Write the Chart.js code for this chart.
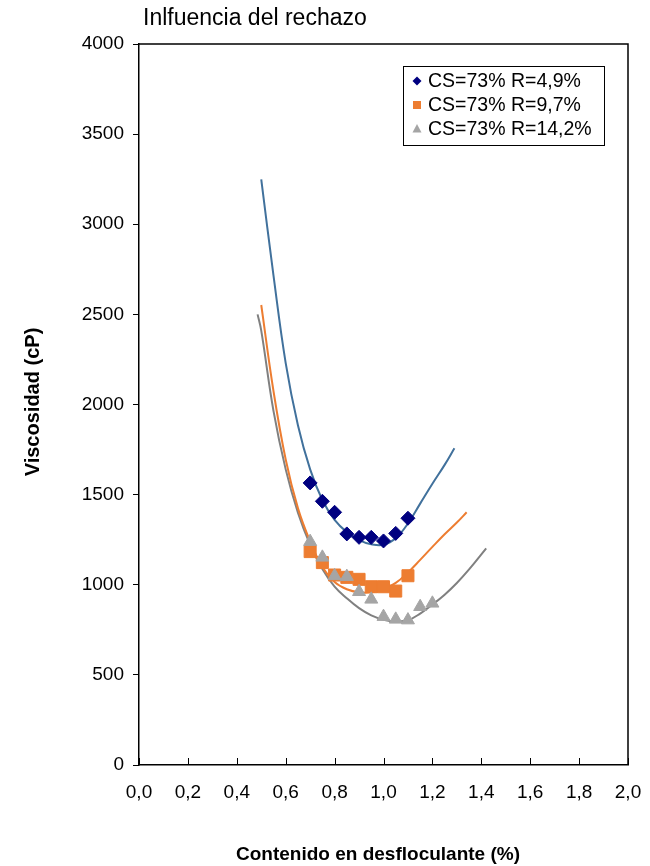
<!DOCTYPE html>
<html>
<head>
<meta charset="utf-8">
<style>
  body { margin: 0; background: #fff; }
  canvas { display: block; }
</style>
<script src="https://cdn.jsdelivr.net/npm/chart.js@4.4.1/dist/chart.umd.min.js"></script>
</head>
<body>
<canvas id="viscChart" width="650" height="866"></canvas>
<script>
// datos medidos (contenido en desfloculante %, viscosidad cP)
var desflo = [0.70, 0.75, 0.80, 0.85, 0.90, 0.95, 1.00, 1.05, 1.10];
var desfloR142 = [0.70, 0.75, 0.80, 0.85, 0.90, 0.95, 1.00, 1.05, 1.10, 1.15, 1.20];
var viscR49 = [1565, 1463, 1402, 1282, 1263, 1263, 1243, 1285, 1369];
var viscR97 = [1184, 1123, 1054, 1041, 1030, 989, 989, 965, 1050];
var viscR142 = [1239, 1152, 1049, 1045, 961, 919, 823, 808, 804, 878, 897];

// lineas de tendencia
var tendX49 = [0.50, 0.55, 0.60, 0.65, 0.70, 0.75, 0.80, 0.85, 0.90, 0.95, 1.00, 1.05, 1.10, 1.15, 1.20, 1.25, 1.29];
var tendY49 = [3249, 2716, 2230, 1885, 1640, 1470, 1360, 1292, 1248, 1225, 1222, 1258, 1340, 1450, 1560, 1665, 1757];
var tendX97 = [0.50, 0.55, 0.60, 0.65, 0.70, 0.75, 0.80, 0.85, 0.90, 0.95, 1.00, 1.05, 1.10, 1.15, 1.20, 1.25, 1.30, 1.34];
var tendY97 = [2552, 2075, 1695, 1425, 1240, 1098, 1015, 975, 958, 958, 975, 1010, 1068, 1138, 1210, 1280, 1345, 1402];
var tendX142 = [0.485, 0.50, 0.55, 0.60, 0.65, 0.70, 0.75, 0.80, 0.85, 0.90, 0.95, 1.00, 1.05, 1.10, 1.15, 1.20, 1.25, 1.30, 1.35, 1.42];
var tendY142 = [2500, 2410, 1965, 1640, 1400, 1222, 1088, 990, 925, 870, 830, 806, 797, 803, 840, 890, 945, 1010, 1085, 1202];

var etiquetas = ['CS=73% R=4,9%', 'CS=73% R=9,7%', 'CS=73% R=14,2%'];
var xTicks = [0, 0.2, 0.4, 0.6, 0.8, 1.0, 1.2, 1.4, 1.6, 1.8, 2.0];

var FONT = '"Liberation Sans", Arial, sans-serif';

function pares(xs, ys) {
  var out = [];
  for (var i = 0; i < xs.length; i++) out.push({ x: xs[i], y: ys[i] });
  return out;
}

// marco, ticks interiores en x, titulos y leyenda
var extras = {
  id: 'extras',
  afterDraw: function(chart) {
    var ctx = chart.ctx;
    var a = chart.chartArea;
    ctx.save();
    ctx.strokeStyle = '#000';
    ctx.lineWidth = 1.5;
    ctx.beginPath();
    ctx.moveTo(a.left, a.top);
    ctx.lineTo(a.right, a.top);
    ctx.lineTo(a.right, a.bottom);
    ctx.stroke();

    var xs = chart.scales.x;
    ctx.lineWidth = 1;
    ctx.beginPath();
    for (var i = 0; i < xTicks.length; i++) {
      var px = Math.round(xs.getPixelForValue(xTicks[i])) + 0.5;
      ctx.moveTo(px, a.bottom);
      ctx.lineTo(px, a.bottom - 7);
    }
    ctx.stroke();

    // titulo
    ctx.fillStyle = '#000';
    ctx.font = '23px ' + FONT;
    ctx.textAlign = 'left';
    ctx.textBaseline = 'middle';
    ctx.fillText('Inlfuencia del rechazo', 143, 19);

    // titulos de ejes
    ctx.font = 'bold 19px ' + FONT;
    ctx.textAlign = 'center';
    ctx.fillText('Contenido en desfloculante (%)', 378, 855);
    ctx.save();
    ctx.translate(33, 402);
    ctx.rotate(-Math.PI / 2);
    ctx.font = 'bold 20px ' + FONT;
    ctx.fillText('Viscosidad (cP)', 0, 0);
    ctx.restore();

    // leyenda
    var bx = a.right - 225, by = a.top + 22, bw = 201, bh = 79;
    ctx.fillStyle = '#fff';
    ctx.fillRect(bx, by, bw, bh);
    ctx.strokeStyle = '#000';
    ctx.lineWidth = 1;
    ctx.strokeRect(bx + 0.5, by + 0.5, bw, bh);
    ctx.font = '19.5px ' + FONT;
    ctx.textAlign = 'left';
    for (var k = 0; k < 3; k++) {
      var ds = chart.data.datasets[k];
      var cy = by + 15 + k * 24;
      var cx = bx + 14;
      ctx.fillStyle = ds.backgroundColor;
      ctx.beginPath();
      if (k === 0) {
        ctx.moveTo(cx, cy - 4.5); ctx.lineTo(cx + 4.5, cy);
        ctx.lineTo(cx, cy + 4.5); ctx.lineTo(cx - 4.5, cy);
      } else if (k === 1) {
        ctx.rect(cx - 4, cy - 4, 8, 8);
      } else {
        ctx.moveTo(cx, cy - 5); ctx.lineTo(cx + 4.5, cy + 3.5); ctx.lineTo(cx - 4.5, cy + 3.5);
      }
      ctx.closePath();
      ctx.fill();
      ctx.fillStyle = '#000';
      ctx.fillText(etiquetas[k], bx + 25, cy + 1);
    }
    ctx.restore();
  }
};

var ctx = document.getElementById('viscChart').getContext('2d');
var chart = new Chart(ctx, {
  type: 'scatter',
  data: {
    datasets: [
      { label: etiquetas[0], data: pares(desflo, viscR49), pointStyle: 'rectRot', pointRadius: 7,
        backgroundColor: '#000080', borderColor: '#000080', borderWidth: 1, order: 3 },
      { label: etiquetas[1], data: pares(desflo, viscR97), pointStyle: 'rect', pointRadius: 8.5,
        backgroundColor: '#ED7D31', borderColor: '#ED7D31', borderWidth: 1, order: 2 },
      { label: etiquetas[2], data: pares(desfloR142, viscR142), pointStyle: 'triangle', pointRadius: 7.5,
        backgroundColor: '#A5A5A5', borderColor: '#A5A5A5', borderWidth: 1, order: 1 },
      { type: 'line', data: pares(tendX49, tendY49), borderColor: '#41719C', borderWidth: 2,
        pointRadius: 0, tension: 0.4, fill: false, order: 10 },
      { type: 'line', data: pares(tendX97, tendY97), borderColor: '#ED7D31', borderWidth: 2,
        pointRadius: 0, tension: 0.4, fill: false, order: 10 },
      { type: 'line', data: pares(tendX142, tendY142), borderColor: '#808080', borderWidth: 2,
        pointRadius: 0, tension: 0.4, fill: false, order: 10 }
    ]
  },
  options: {
    responsive: false,
    animation: false,
    devicePixelRatio: 1,
    layout: { padding: { left: 0, top: 44, right: 22, bottom: 0 } },
    plugins: {
      legend: { display: false },
      tooltip: { enabled: false }
    },
    scales: {
      x: {
        type: 'linear',
        min: 0,
        max: 2,
        afterBuildTicks: function(s) { s.ticks = xTicks.map(function(v) { return { value: v }; }); },
        afterFit: function(s) {
          s.height = 101;
          s.paddingLeft = 0;
          s.paddingRight = 0;
        },
        ticks: {
          color: '#000',
          font: { family: FONT, size: 19 },
          padding: 16,
          maxRotation: 0,
          callback: function(v) { return v.toFixed(1).replace('.', ','); }
        },
        grid: { drawOnChartArea: false, drawTicks: false },
        border: { color: '#000', width: 1.5 }
      },
      y: {
        min: 0,
        max: 4000,
        afterFit: function(s) {
          s.width = 139;
          s.paddingTop = 0;
          s.paddingBottom = 0;
        },
        ticks: {
          stepSize: 500,
          color: '#000',
          font: { family: FONT, size: 19 },
          padding: 9,
          callback: function(v) { return String(v); }
        },
        grid: { drawOnChartArea: false, drawTicks: true, tickLength: 6, tickColor: '#000' },
        border: { color: '#000', width: 1.5 }
      }
    }
  },
  plugins: [extras]
});
</script>
</body>
</html>
